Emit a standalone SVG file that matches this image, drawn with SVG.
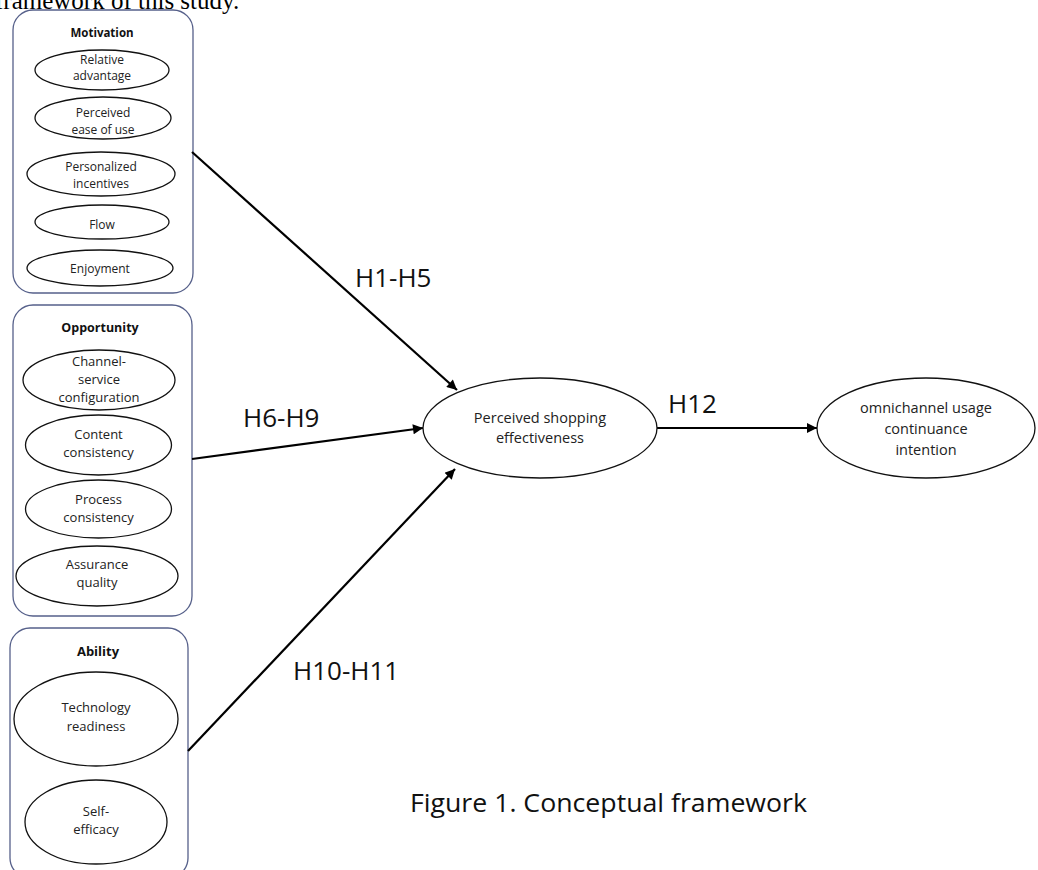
<svg xmlns="http://www.w3.org/2000/svg" width="1038" height="870" viewBox="0 0 1038 870">
<defs>
<style>
.box{fill:none;stroke:#56608a;stroke-width:1.3}
.ell{fill:#fff;stroke:#111;stroke-width:1.3}
.t12{font-family:"Open Sans","DejaVu Sans",sans-serif;font-size:12px;fill:#222;text-anchor:middle}
.t13{font-family:"Open Sans","DejaVu Sans",sans-serif;font-size:13px;fill:#222;text-anchor:middle}
.t14{font-family:"Open Sans","DejaVu Sans",sans-serif;font-size:14.5px;fill:#222;text-anchor:middle}
.hd{font-family:"Open Sans","DejaVu Sans",sans-serif;font-weight:bold;fill:#111;text-anchor:middle}
.hl{font-family:"Open Sans","DejaVu Sans",sans-serif;font-size:26px;fill:#111}
.conn{stroke:#000;stroke-width:2.2;fill:none;marker-end:url(#arr)}
</style>
<marker id="arr" viewBox="0 0 10 10" refX="10" refY="5" markerWidth="11" markerHeight="10" markerUnits="userSpaceOnUse" orient="auto">
<path d="M0,0 L10,5 L0,10 Z" fill="#000"/>
</marker>
</defs>
<rect width="1038" height="870" fill="#fff"/>
<text x="-5" y="9" font-family="Liberation Serif, serif" font-size="25" fill="#000">framework of this study.</text>

<g id="motivation">
<rect class="box" x="13" y="10" width="180" height="283" rx="20"/>
<text class="hd" x="102" y="37" font-size="11.5">Motivation</text>
<g id="relative-advantage"><ellipse class="ell" cx="102" cy="70" rx="67" ry="20"/><text class="t12" x="102" y="64">Relative</text><text class="t12" x="102" y="80">advantage</text></g>
<g id="perceived-ease"><ellipse class="ell" cx="103" cy="118" rx="68" ry="21"/><text class="t12" x="103" y="117">Perceived</text><text class="t12" x="103" y="134">ease of use</text></g>
<g id="personalized-incentives"><ellipse class="ell" cx="101" cy="174" rx="74" ry="22"/><text class="t12" x="101" y="171">Personalized</text><text class="t12" x="101" y="188">incentives</text></g>
<g id="flow"><ellipse class="ell" cx="102" cy="222" rx="67" ry="17"/><text class="t12" x="102" y="229">Flow</text></g>
<g id="enjoyment"><ellipse class="ell" cx="100" cy="268" rx="73" ry="18"/><text class="t12" x="100" y="273">Enjoyment</text></g>
</g>

<g id="opportunity">
<rect class="box" x="13" y="305" width="179" height="311" rx="20"/>
<text class="hd" x="100" y="332" font-size="12.5">Opportunity</text>
<g id="channel-service"><ellipse class="ell" cx="99" cy="380" rx="76" ry="30"/><text class="t13" x="99" y="366">Channel-</text><text class="t13" x="99" y="384">service</text><text class="t13" x="99" y="402">configuration</text></g>
<g id="content-consistency"><ellipse class="ell" cx="98.5" cy="445" rx="73" ry="30"/><text class="t13" x="98.5" y="439">Content</text><text class="t13" x="98.5" y="457">consistency</text></g>
<g id="process-consistency"><ellipse class="ell" cx="98.5" cy="509" rx="73" ry="29"/><text class="t13" x="98.5" y="504">Process</text><text class="t13" x="98.5" y="522">consistency</text></g>
<g id="assurance-quality"><ellipse class="ell" cx="97" cy="576" rx="81" ry="30"/><text class="t13" x="97" y="569">Assurance</text><text class="t13" x="97" y="587">quality</text></g>
</g>

<g id="ability">
<rect class="box" x="10" y="628" width="178" height="250" rx="20"/>
<text class="hd" x="98" y="656" font-size="13">Ability</text>
<g id="technology-readiness"><ellipse class="ell" cx="96" cy="719" rx="82" ry="47"/><text class="t13" x="96" y="712">Technology</text><text class="t13" x="96" y="731">readiness</text></g>
<g id="self-efficacy"><ellipse class="ell" cx="96" cy="822" rx="71" ry="42"/><text class="t13" x="96" y="816">Self-</text><text class="t13" x="96" y="834">efficacy</text></g>
</g>

<g id="connectors">
<line class="conn" x1="192" y1="152" x2="457" y2="390"/>
<line class="conn" x1="192" y1="459" x2="423" y2="428"/>
<line class="conn" x1="188" y1="751" x2="455" y2="469"/>
<line class="conn" x1="657" y1="428" x2="817" y2="428"/>
<text class="hl" x="355" y="287">H1-H5</text>
<text class="hl" x="243" y="427">H6-H9</text>
<text class="hl" x="293" y="680">H10-H11</text>
<text class="hl" x="668" y="413">H12</text>
</g>

<g id="perceived-shopping-effectiveness">
<ellipse class="ell" cx="540" cy="428" rx="117" ry="50"/>
<text class="t14" x="540" y="423">Perceived shopping</text>
<text class="t14" x="540" y="443">effectiveness</text>
</g>

<g id="continuance-intention">
<ellipse class="ell" cx="926" cy="428" rx="109" ry="50"/>
<text class="t14" x="926" y="413">omnichannel usage</text>
<text class="t14" x="926" y="434">continuance</text>
<text class="t14" x="926" y="455">intention</text>
</g>

<text x="410" y="812" font-family="Open Sans, DejaVu Sans, sans-serif" font-size="25" fill="#111" textLength="397" lengthAdjust="spacingAndGlyphs">Figure 1. Conceptual framework</text>
</svg>
